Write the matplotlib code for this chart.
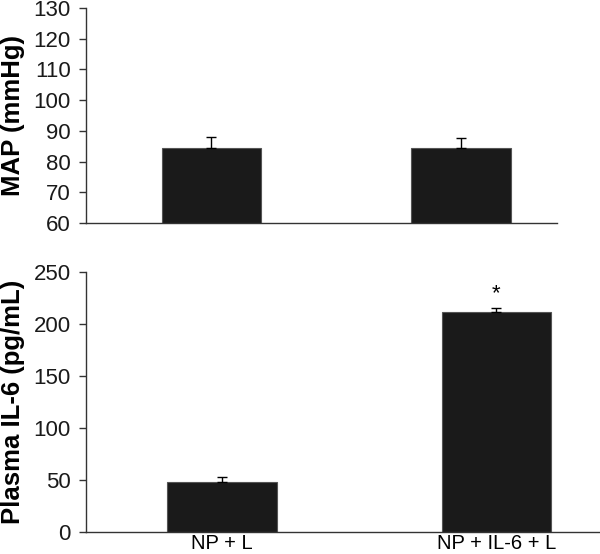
import matplotlib
matplotlib.use("Agg")
import matplotlib.pyplot as plt

plt.rcParams['font.family'] = ['Liberation Sans', 'DejaVu Sans']

categories = ["NP + L", "NP + IL-6 + L"]
map_values = [84.5, 84.5]
map_err = [3.5, 3.2]
il6_values = [48, 212]
il6_err = [5, 3.5]
map_ticks = [60, 70, 80, 90, 100, 110, 120, 130]
il6_ticks = [0, 50, 100, 150, 200, 250]

fig = plt.figure(figsize=(6.0, 5.54), dpi=100)
ax1 = fig.add_axes([0.1433, 0.5975, 0.928 - 0.1433, 0.9856 - 0.5975])
ax2 = fig.add_axes([0.1433, 0.0397, 1.0 - 0.1433, 0.509 - 0.0397])

bar_color = "#1a1a1a"
edge_color = "#555555"
spine_color = "#333333"

x = list(range(len(categories)))

ax1.bar(x, map_values, width=0.4, color=bar_color, edgecolor=edge_color, linewidth=0.8)
ax1.errorbar(x, map_values, yerr=[[0] * len(x), map_err], fmt='none',
             ecolor='black', elinewidth=1.0, capsize=3.5, capthick=1.0)
ax1.set_ylim(60, 130)
ax1.set_xlim(-0.503, 1.385)
ax1.set_yticks(map_ticks)
ax1.set_xticks([])
ax1.set_ylabel("MAP (mmHg)", fontsize=18.5, fontweight='bold', labelpad=6)

ax2.bar(x, il6_values, width=0.4, color=bar_color, edgecolor=edge_color, linewidth=0.8)
ax2.errorbar(x, il6_values, yerr=[[0] * len(x), il6_err], fmt='none',
             ecolor='black', elinewidth=1.0, capsize=3.5, capthick=1.0)
ax2.set_ylim(0, 250)
ax2.set_xlim(-0.495, 1.377)
ax2.set_yticks(il6_ticks)
ax2.set_xticks(x)
ax2.set_xticklabels(categories)
ax2.tick_params(axis='x', length=0, pad=1.5, labelsize=14.5)
ax2.set_ylabel("Plasma IL-6 (pg/mL)", fontsize=18.5, fontweight='bold', labelpad=6)
ax2.text(1, il6_values[1] + il6_err[1] + 4, "*", ha='center', va='bottom', fontsize=16)

for ax in (ax1, ax2):
    ax.spines['top'].set_visible(False)
    ax.spines['right'].set_visible(False)
    for s in ('left', 'bottom'):
        ax.spines[s].set_color(spine_color)
        ax.spines[s].set_linewidth(1.0)
    ax.tick_params(axis='y', direction='out', length=5, width=1.0,
                   color=spine_color, labelsize=16, pad=6)
    for lbl in ax.get_yticklabels():
        lbl.set_color("#1a1a1a")

fig.savefig("out.png", dpi=100)
